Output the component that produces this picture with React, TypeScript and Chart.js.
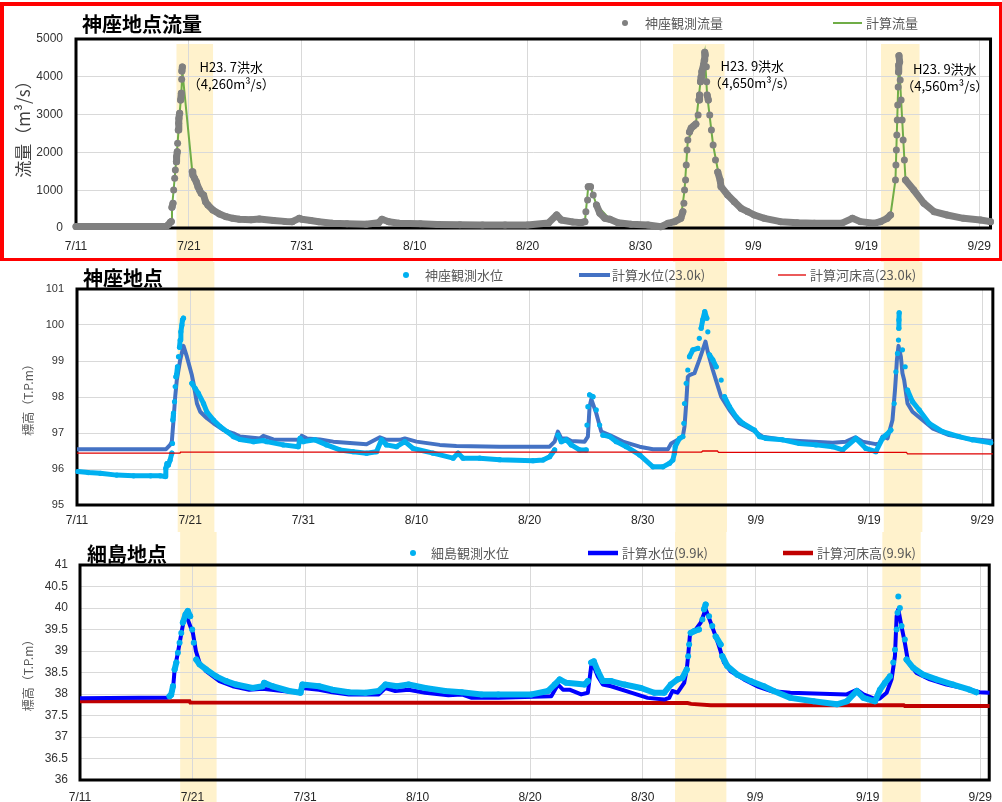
import React, { useEffect, useRef } from 'react';
import { Chart, registerables } from 'chart.js';

Chart.register(...registerables);

const CJK = "'Noto Sans CJK JP', 'Noto Sans CJK SC', sans-serif";
const LATIN = "'Liberation Sans', Arial, sans-serif";

type P = [number, number];

// x axis: days since 7/11 00:00
const xTickLabels = ['7/11', '7/21', '7/31', '8/10', '8/20', '8/30', '9/9', '9/19', '9/29'];
const floodStartDays = [8.9, 52.88, 71.3];
const floodEndDays = [12.14, 57.44, 74.71];

// ---- 神座地点流量 ----
const obsFlow: P[] = [
  [0, 40], [2, 40], [4, 38], [6, 38], [7.5, 40], [8.0, 45], [8.2, 90], [8.35, 150], [8.44, 170], [8.5, 548], [8.59, 653], [8.65, 1005], [8.74, 1314], [8.8, 1534], [8.89, 1754], [8.91, 1886], [8.97, 2018], [9.0, 2240], [9.06, 2593], [9.09, 2769], [9.12, 2900], [9.18, 3034], [9.27, 3386], [9.33, 3563], [9.36, 3934], [9.38, 4153], [9.42, 4260],
  [10.3, 1490], [10.35, 1402], [10.5, 1314], [10.65, 1226], [10.8, 1093], [10.94, 1005], [11.09, 918], [11.3, 873], [11.47, 696], [11.68, 608], [12.12, 476], [12.71, 370], [13.3, 300], [13.88, 256], [14.47, 230], [15.5, 220], [16.24, 238], [17.5, 200], [18.5, 175], [19.15, 168], [19.77, 256], [20.0, 230], [20.8, 200], [21.5, 167], [22.7, 124], [24.0, 110], [25.7, 98], [26.8, 140], [27.1, 230], [27.7, 167], [28.6, 124], [30.5, 110], [32, 95], [34, 85], [36, 80], [38, 78], [40, 80], [41.84, 130], [42.57, 344], [42.98, 212], [44.0, 160], [44.75, 141], [45.07, 168], [45.16, 432], [45.31, 741], [45.37, 1093], [45.57, 1093], [45.81, 873], [46.1, 608], [46.4, 388], [46.84, 256], [47.28, 230], [48.01, 141], [49.16, 97], [50.66, 79], [51.81, 35], [52.43, 124], [53.02, 168], [53.57, 256], [53.75, 432], [53.84, 653], [53.9, 1005], [53.99, 1270],
  [54.05, 1667], [54.12, 2063], [54.19, 2328], [54.34, 2540], [54.49, 2646], [54.7, 2700], [54.9, 2751], [55.1, 2990], [55.18, 3386], [55.23, 3519], [55.31, 3870], [55.37, 4004], [55.43, 4136], [55.58, 4312], [55.65, 4444], [55.69, 4650], [55.73, 4580], [55.83, 4267], [55.86, 3870], [55.9, 3519], [56.0, 3386], [56.13, 2990], [56.28, 2593], [56.43, 2196], [56.64, 1799], [56.84, 1481], [57.05, 1270], [57.13, 1093], [57.72, 873], [58.31, 696], [58.9, 520], [59.5, 432], [60.08, 344], [60.97, 256], [62.4, 168], [63.9, 141], [65.4, 124], [67.8, 124], [68.76, 256], [69.5, 168], [70.67, 124], [71.25, 168], [71.85, 256], [72.14, 344],
  [72.58, 1270], [72.62, 1667], [72.66, 2063], [72.7, 2460], [72.74, 2857], [72.78, 3254], [72.82, 3730], [72.85, 4127], [72.87, 4312], [72.89, 4560], [72.95, 4392], [73.0, 3915], [73.08, 3386], [73.17, 2857], [73.26, 2328], [73.37, 1800], [73.47, 1270], [74.2, 1005], [75.1, 653], [76.0, 432], [77.15, 344], [78.6, 256], [80.1, 212], [81.0, 168],
];
const calcFlow: P[] = [
  [0, 40], [8.0, 45], [8.35, 150], [8.44, 170], [8.5, 550], [8.65, 1005], [8.8, 1534], [9.0, 2240], [9.18, 3034], [9.33, 3563], [9.42, 4150], [10.3, 1490], [10.65, 1226], [11.09, 918], [11.68, 608], [12.71, 370], [14.47, 230], [16.24, 238], [19.15, 168], [19.77, 256], [21.5, 167], [25.7, 98], [27.1, 230], [28.6, 124], [36, 80], [41.84, 130], [42.57, 344], [42.98, 212], [44.75, 141], [45.07, 168], [45.16, 432], [45.37, 1093], [45.57, 1093], [46.1, 608], [47.28, 230], [49.16, 97], [51.81, 35], [53.02, 168], [53.57, 256], [53.9, 1005], [54.19, 2328], [54.9, 2751], [55.31, 3870], [55.69, 4600], [55.9, 3519], [56.43, 2196], [57.13, 1093], [58.9, 520], [60.97, 256], [63.9, 141], [67.8, 124], [68.76, 256], [70.67, 124], [72.14, 344], [72.58, 1270], [72.89, 4450], [73.08, 3386], [73.47, 1270], [74.2, 1005], [76.0, 432], [78.6, 256], [81.0, 168],
];
const noteDays = [13.75, 59.9, 76.95];
const noteValues = [4260, 4290, 4200];
const noteTitles = ['H23. 7洪水', 'H23. 9洪水', 'H23. 9洪水'];
const notePeaks = ['（4,260m³/s）', '（4,650m³/s）', '（4,560m³/s）'];

// ---- 神座地点 水位 ----
const obsLevelKamiza: P[] = [
  [0.09, 95.93], [1.0, 95.9], [2.06, 95.88], [3.5, 95.83], [5.0, 95.81], [6.5, 95.81], [7.35, 95.81], [7.8, 95.79], [7.85, 96.02], [7.95, 96.15], [8.08, 96.11], [8.23, 96.25], [8.38, 96.44], [8.44, 96.71], [8.47, 97.36], [8.53, 97.55], [8.62, 97.87], [8.68, 98.29], [8.74, 98.56], [8.8, 98.62], [8.88, 98.84], [8.97, 99.12], [9.06, 99.38], [9.12, 99.58], [9.18, 99.81], [9.27, 100.0], [9.32, 100.14], [9.41, 100.19],
  [10.15, 98.38], [10.44, 98.24], [10.73, 98.1], [11.18, 97.82], [11.47, 97.59], [12.06, 97.36], [12.65, 97.18], [13.24, 97.04], [13.82, 96.9], [14.41, 96.82], [15.59, 96.76], [16.47, 96.79], [16.76, 96.76], [18.23, 96.67], [19.56, 96.62], [19.71, 96.85], [20.0, 96.76], [21.03, 96.81], [22.06, 96.67], [23.24, 96.53], [24.41, 96.48], [25.59, 96.44], [26.47, 96.48], [26.91, 96.81], [27.35, 96.67], [28.24, 96.62], [28.97, 96.76], [29.71, 96.57], [31.47, 96.44], [33.24, 96.3], [33.68, 96.44], [34.12, 96.3], [35.59, 96.3], [37.36, 96.26], [40.3, 96.23], [41.18, 96.25], [41.77, 96.34], [42.21, 96.53], [42.5, 96.94], [42.8, 96.76], [43.24, 96.81], [43.68, 96.67], [44.42, 96.53], [45.0, 96.53], [45.07, 97.22], [45.15, 97.73], [45.3, 98.06], [45.6, 98.01], [45.89, 97.64], [46.19, 97.22], [46.48, 96.94], [47.07, 96.9], [47.66, 96.76], [48.54, 96.62], [49.72, 96.39], [50.9, 96.06], [51.78, 96.06], [52.37, 96.16], [52.66, 96.25], [52.8, 96.44], [52.87, 96.62], [53.25, 96.85], [53.54, 96.9], [53.63, 97.27], [53.69, 97.82], [53.84, 98.38], [53.98, 98.75],
  [54.13, 99.12], [54.43, 99.31], [54.87, 99.35], [55.0, 99.63], [55.16, 99.91], [55.3, 100.14], [55.48, 100.37], [55.66, 100.19], [55.75, 99.81], [55.9, 99.17], [56.19, 99.03], [56.49, 98.84], [56.93, 98.47], [57.22, 98.01], [57.66, 97.73], [58.25, 97.45], [58.84, 97.27], [59.87, 97.08], [60.31, 96.9], [60.9, 96.85], [62.37, 96.81], [63.84, 96.71], [65.31, 96.67], [66.78, 96.62], [67.66, 96.53], [68.84, 96.85], [69.72, 96.57], [70.6, 96.48], [71.19, 96.85], [71.49, 96.94], [71.93, 97.08], [72.22, 97.82], [72.37, 98.7], [72.51, 99.21], [72.6, 99.58], [72.63, 99.91], [72.64, 100.14], [72.66, 100.34], [72.95, 99.31], [73.19, 98.84], [73.4, 98.19], [73.84, 97.87], [74.43, 97.64], [75.31, 97.27], [76.49, 97.04], [77.96, 96.9], [79.13, 96.81], [80.75, 96.73],
];
const calcLevelKamiza: P[] = [
  [0, 96.55], [7.87, 96.55], [8.23, 96.67], [8.38, 96.76], [8.53, 97.36], [8.68, 98.01], [8.82, 98.47], [9.12, 99.03], [9.41, 99.42], [9.71, 99.12], [10.15, 98.61], [10.3, 98.38], [10.6, 97.82], [10.89, 97.59], [11.48, 97.41], [12.06, 97.27], [12.95, 97.08], [13.82, 96.99], [14.41, 96.9], [16.18, 96.85], [16.47, 96.92], [17.35, 96.82], [19.71, 96.81], [19.86, 96.92], [20.3, 96.85], [21.47, 96.82], [22.65, 96.76], [25.59, 96.69], [26.77, 96.88], [27.35, 96.81], [28.53, 96.81], [28.97, 96.85], [30.0, 96.76], [32.06, 96.67], [33.53, 96.64], [37.36, 96.62], [41.77, 96.62], [42.21, 96.76], [42.5, 97.04], [42.8, 96.85], [43.24, 96.85], [43.68, 96.78], [44.86, 96.76], [45.15, 96.9], [45.3, 97.73], [45.45, 97.94], [45.89, 97.55], [46.33, 97.04], [47.07, 96.94], [48.25, 96.76], [49.72, 96.62], [50.9, 96.55], [52.22, 96.55], [52.51, 96.71], [53.1, 96.81], [53.54, 96.9], [53.69, 97.18], [53.84, 97.82], [53.98, 98.56], [54.13, 98.61], [54.57, 98.66], [55.0, 99.03], [55.3, 99.31], [55.54, 99.54], [55.74, 99.26], [56.19, 98.75], [56.49, 98.45], [56.93, 98.01], [57.66, 97.64], [58.55, 97.27], [59.72, 97.08], [60.6, 96.9], [62.37, 96.81], [63.84, 96.78], [66.78, 96.73], [67.96, 96.76], [68.79, 96.88], [69.43, 96.76], [70.6, 96.69], [70.9, 96.71], [71.19, 96.9], [71.63, 96.85], [72.07, 97.36], [72.29, 98.19], [72.37, 98.56], [72.46, 99.03], [72.6, 99.42], [72.81, 99.12], [72.95, 98.66], [73.1, 98.47], [73.4, 97.82], [73.84, 97.59], [74.72, 97.36], [75.6, 97.13], [77.07, 96.94], [78.55, 96.85], [80.94, 96.78],
];
const bedKamiza: P[] = [
  [0, 96.44], [9.1, 96.44], [9.15, 96.47], [55.2, 96.47], [55.3, 96.5], [56.6, 96.5], [56.7, 96.46], [73.3, 96.46], [73.4, 96.42], [80.94, 96.42],
];

// ---- 細島地点 水位 ----
const obsLevelHosojima: P[] = [
  [7.96, 37.95], [8.1, 37.98], [8.26, 38.18], [8.41, 38.57], [8.56, 38.73], [8.7, 38.96], [8.85, 39.19], [9.0, 39.42], [9.14, 39.66], [9.38, 39.85], [9.58, 39.93], [9.79, 39.81], [9.97, 39.5], [10.11, 39.19], [10.33, 38.8], [10.62, 38.69], [11.21, 38.57], [12.1, 38.41], [12.98, 38.3], [13.87, 38.22], [15.34, 38.14], [16.22, 38.18], [16.37, 38.26], [17.1, 38.18], [18.58, 38.07], [19.6, 38.03], [19.76, 38.22], [21.24, 38.18], [22.42, 38.1], [23.89, 38.04], [25.37, 38.03], [26.55, 38.07], [27.14, 38.22], [28.17, 38.18], [29.2, 38.22], [30.68, 38.14], [32.45, 38.07], [33.92, 38.04], [35.69, 37.99], [37.17, 37.99], [40.12, 37.99], [41.59, 38.07], [42.18, 38.22], [42.63, 38.34], [43.21, 38.26], [44.84, 38.22], [45.13, 38.3], [45.43, 38.73], [45.66, 38.76], [46.02, 38.53], [46.46, 38.3], [47.2, 38.3], [48.38, 38.22], [49.85, 38.14], [51.03, 38.03], [51.92, 38.03], [52.5, 38.22], [53.1, 38.34], [53.54, 38.38], [53.92, 38.57], [54.04, 38.88],
  [54.13, 39.15], [54.27, 39.42], [54.57, 39.46], [55.0, 39.5], [55.31, 39.73], [55.46, 39.97], [55.6, 40.08], [55.9, 39.81], [56.19, 39.58], [56.49, 39.34], [56.93, 39.15], [57.08, 38.88], [57.52, 38.65], [58.41, 38.45], [59.59, 38.3], [60.77, 38.18], [61.65, 38.07], [63.13, 37.91], [65.19, 37.83], [67.26, 37.76], [68.14, 37.83], [69.03, 38.07], [69.62, 37.91], [70.65, 37.83], [71.09, 38.1], [71.53, 38.26], [71.98, 38.41], [72.27, 38.73], [72.42, 39.03], [72.57, 39.5], [72.65, 39.89], [72.72, 40.27], [72.86, 40.0], [73.01, 39.58], [73.3, 39.27], [73.45, 38.8], [74.04, 38.61], [74.93, 38.45], [76.11, 38.34], [77.58, 38.22], [79.06, 38.1], [79.65, 38.04],
];
const calcLevelHosojima: P[] = [
  [0, 37.9], [7.8, 37.92], [8.1, 37.98], [8.26, 38.1], [8.41, 38.57], [8.7, 38.96], [9.0, 39.4], [9.29, 39.81], [9.58, 39.73], [10.03, 39.42], [10.3, 39.0], [10.62, 38.73], [11.21, 38.53], [12.39, 38.3], [13.57, 38.18], [15.04, 38.1], [16.22, 38.12], [17.99, 38.07], [19.6, 38.03], [19.76, 38.14], [21.24, 38.1], [22.42, 38.04], [23.89, 37.99], [26.55, 37.99], [27.14, 38.14], [28.02, 38.07], [29.2, 38.1], [30.68, 38.03], [32.74, 37.97], [33.92, 37.99], [34.81, 37.91], [37.17, 37.91], [41.88, 37.95], [42.48, 38.22], [42.92, 38.1], [43.5, 38.1], [44.54, 37.99], [45.13, 38.03], [45.43, 38.65], [45.58, 38.69], [46.02, 38.41], [46.46, 38.22], [47.2, 38.18], [48.97, 38.03], [50.44, 37.91], [51.92, 37.87], [52.36, 37.91], [52.65, 38.07], [53.1, 38.03], [53.69, 38.26], [53.92, 38.57], [54.04, 38.88], [54.22, 39.42], [54.72, 39.5], [55.16, 39.66], [55.6, 39.97], [56.05, 39.66], [56.49, 39.34], [56.8, 39.1], [57.23, 38.73], [57.82, 38.53], [59.0, 38.34], [60.18, 38.18], [61.36, 38.07], [63.13, 38.03], [66.67, 38.0], [68.14, 37.99], [69.03, 38.1], [69.62, 37.99], [70.8, 37.87], [71.1, 37.9], [71.68, 38.03], [72.12, 38.34], [72.42, 38.88], [72.57, 39.81], [72.72, 39.97], [73.0, 39.58], [73.3, 39.19], [73.6, 38.73], [74.34, 38.49], [75.52, 38.34], [77.0, 38.22], [78.47, 38.14], [79.94, 38.04], [80.83, 38.03],
];
const bedHosojima: P[] = [
  [0, 37.83], [9.73, 37.83], [9.8, 37.8], [54.0, 37.79], [54.3, 37.77], [56.05, 37.74], [73.2, 37.74], [73.3, 37.72], [80.83, 37.72],
];

const toPts = (s: P[]) => s.map(([x, y]) => ({ x, y }));

// observed series: join neighbouring readings with a thick stroke except on steep rises/falls,
// where the readings stand apart as single dots
const hideSteep = (limit: number) => ({
  borderColor: (c: any) => {
    const dy = Math.abs(c.p1.y - c.p0.y);
    const dx = Math.abs(c.p1.x - c.p0.x);
    return dy > limit && dy > 2.5 * dx ? 'rgba(0,0,0,0)' : undefined;
  },
});

interface LegendSpec { kind: 'dot' | 'line'; markerX: number; markerEnd?: number; width?: number; textX: number; }
interface DecorCfg {
  title: string; titleX: number; titleY: number;
  legendY: number; legend: LegendSpec[];
  bandTop: number;
  notes?: boolean;
}

function makeDecor(cfg: DecorCfg) {
  return {
    id: 'decor',
    beforeDraw(chart: any) {
      const { ctx, height } = chart;
      const xs = chart.scales.x;
      ctx.save();
      ctx.fillStyle = '#FFF2CC';
      floodStartDays.forEach((d, i) => {
        const a = xs.getPixelForValue(d);
        const b = xs.getPixelForValue(floodEndDays[i]);
        ctx.fillRect(a, cfg.bandTop, b - a, height - cfg.bandTop);
      });
      ctx.restore();
    },
    beforeDatasetsDraw(chart: any) {
      const { ctx, chartArea: a } = chart;
      ctx.save();
      ctx.strokeStyle = '#000000';
      ctx.lineWidth = 3;
      ctx.strokeRect(a.left, a.top, a.right - a.left, a.bottom - a.top);
      ctx.restore();
    },
    afterDraw(chart: any) {
      const { ctx } = chart;
      ctx.save();
      ctx.fillStyle = '#000000';
      ctx.font = `bold 20px ${CJK}`;
      ctx.textAlign = 'left';
      ctx.textBaseline = 'middle';
      ctx.fillText(cfg.title, cfg.titleX, cfg.titleY);
      ctx.font = `13px ${CJK}`;
      chart.data.datasets.forEach((ds: any, i: number) => {
        const spec = cfg.legend[i];
        if (!spec) return;
        if (spec.kind === 'dot') {
          ctx.fillStyle = ds.pointBackgroundColor;
          ctx.beginPath();
          ctx.arc(spec.markerX, cfg.legendY, 3, 0, Math.PI * 2);
          ctx.fill();
        } else {
          ctx.strokeStyle = ds.borderColor;
          ctx.lineWidth = spec.width ?? 2;
          ctx.beginPath();
          ctx.moveTo(spec.markerX, cfg.legendY);
          ctx.lineTo(spec.markerEnd ?? spec.markerX + 30, cfg.legendY);
          ctx.stroke();
        }
        ctx.fillStyle = '#595959';
        ctx.fillText(ds.label, spec.textX, cfg.legendY);
      });
      if (cfg.notes) {
        const xs = chart.scales.x;
        const ys = chart.scales.y;
        ctx.fillStyle = '#000000';
        ctx.textAlign = 'center';
        ctx.font = `13px ${CJK}`;
        noteDays.forEach((d, i) => {
          const px = xs.getPixelForValue(d);
          const py = ys.getPixelForValue(noteValues[i]);
          ctx.fillText(noteTitles[i], px, py);
          ctx.fillText(notePeaks[i], px, py + 17);
        });
      }
      ctx.restore();
    },
  };
}

interface AxisCfg {
  xMax: number; xHeight: number; xPad: number;
  yMin: number; yMax: number; yStep: number; yWidth: number; yPad: number; yFont: number;
  yTitle: string; yTitleSize: number; yTitlePad: number; yTitleColor: string;
  top: number; right: number;
}

function buildOptions(a: AxisCfg): any {
  const grid = { color: '#D9D9D9', lineWidth: 1, drawTicks: false };
  return {
    responsive: false,
    animation: false,
    events: [],
    layout: { padding: { top: a.top, right: a.right, left: 0, bottom: 0 } },
    plugins: { legend: { display: false }, tooltip: { enabled: false }, title: { display: false } },
    elements: { line: { tension: 0 } },
    scales: {
      x: {
        type: 'linear', min: 0, max: a.xMax,
        afterFit: (s: any) => { s.height = a.xHeight; },
        grid, border: { display: false },
        ticks: {
          stepSize: 10, includeBounds: false, autoSkip: false, maxRotation: 0, padding: a.xPad,
          font: { family: LATIN, size: 12 }, color: '#262626',
          callback: (v: any) => xTickLabels[Math.round(Number(v) / 10)] ?? '',
        },
      },
      y: {
        type: 'linear', min: a.yMin, max: a.yMax,
        afterFit: (s: any) => { s.width = a.yWidth; },
        grid, border: { display: false },
        ticks: {
          stepSize: a.yStep, padding: a.yPad,
          font: { family: LATIN, size: a.yFont }, color: '#333333',
          callback: (v: any) => String(v),
        },
        title: {
          display: true, text: a.yTitle, color: a.yTitleColor,
          font: { family: CJK, size: a.yTitleSize },
          padding: { top: a.yTitlePad, bottom: 0 },
        },
      },
    },
  };
}

function topConfig(): any {
  return {
    type: 'line',
    data: {
      datasets: [
        {
          label: '神座観測流量', data: toPts(obsFlow),
          borderColor: '#808080', pointBackgroundColor: '#808080', pointBorderWidth: 0, pointRadius: 3.5,
          borderWidth: 7, borderJoinStyle: 'round', borderCapStyle: 'round', segment: hideSteep(8), clip: false,
        },
        { label: '計算流量', data: toPts(calcFlow), borderColor: '#70AD47', borderWidth: 2, pointRadius: 0, clip: false },
      ],
    },
    options: buildOptions({
      xMax: 81.0, xHeight: 34, xPad: 11,
      yMin: 0, yMax: 5000, yStep: 1000, yWidth: 76, yPad: 13, yFont: 12,
      yTitle: '　流量（m³/s）', yTitleSize: 17, yTitlePad: 13, yTitleColor: '#404040',
      top: 39, right: 7,
    }),
    plugins: [makeDecor({
      title: '神座地点流量', titleX: 82, titleY: 24, legendY: 23, bandTop: 44, notes: true,
      legend: [
        { kind: 'dot', markerX: 625, textX: 645 },
        { kind: 'line', markerX: 833, markerEnd: 862, width: 2, textX: 866 },
      ],
    })],
  };
}

function midConfig(): any {
  return {
    type: 'line',
    data: {
      datasets: [
        {
          label: '神座観測水位', data: toPts(obsLevelKamiza),
          borderColor: '#00B0F0', pointBackgroundColor: '#00B0F0', pointBorderWidth: 0, pointRadius: 2.6,
          borderWidth: 5, borderJoinStyle: 'round', borderCapStyle: 'round', segment: hideSteep(9), clip: false,
        },
        { label: '計算水位(23.0k)', data: toPts(calcLevelKamiza), borderColor: '#4472C4', borderWidth: 4, pointRadius: 0, borderJoinStyle: 'round', clip: false },
        { label: '計算河床高(23.0k)', data: toPts(bedKamiza), borderColor: '#E00000', borderWidth: 1.3, pointRadius: 0, order: -1, clip: false },
      ],
    },
    options: buildOptions({
      xMax: 80.94, xHeight: 27, xPad: 8,
      yMin: 95, yMax: 101, yStep: 1, yWidth: 77, yPad: 13, yFont: 11,
      yTitle: '標高（T.P.m）', yTitleSize: 12, yTitlePad: 21, yTitleColor: '#595959',
      top: 27, right: 9,
    }),
    plugins: [makeDecor({
      title: '神座地点', titleX: 83, titleY: 16, legendY: 13, bandTop: 0,
      legend: [
        { kind: 'dot', markerX: 406, textX: 425 },
        { kind: 'line', markerX: 579, markerEnd: 610, width: 4, textX: 612 },
        { kind: 'line', markerX: 778, markerEnd: 806, width: 1.3, textX: 810 },
      ],
    })],
  };
}

function bottomConfig(): any {
  return {
    type: 'line',
    data: {
      datasets: [
        {
          label: '細島観測水位', data: toPts(obsLevelHosojima),
          borderColor: '#00B0F0', pointBackgroundColor: '#00B0F0', pointBorderWidth: 0, pointRadius: 3,
          borderWidth: 6, borderJoinStyle: 'round', borderCapStyle: 'round', segment: hideSteep(9), clip: false,
        },
        { label: '計算水位(9.9k)', data: toPts(calcLevelHosojima), borderColor: '#0000FF', borderWidth: 4, pointRadius: 0, borderJoinStyle: 'round', clip: false },
        { label: '計算河床高(9.9k)', data: toPts(bedHosojima), borderColor: '#C00000', borderWidth: 4, pointRadius: 0, clip: false },
      ],
    },
    options: buildOptions({
      xMax: 80.8, xHeight: 22, xPad: 10,
      yMin: 36, yMax: 41, yStep: 0.5, yWidth: 80, yPad: 12, yFont: 12,
      yTitle: '標高（T.P.m）', yTitleSize: 12, yTitlePad: 21, yTitleColor: '#595959',
      top: 33, right: 9,
    }),
    plugins: [makeDecor({
      title: '細島地点', titleX: 87, titleY: 22, legendY: 21, bandTop: 0,
      legend: [
        { kind: 'dot', markerX: 413, textX: 431 },
        { kind: 'line', markerX: 588, markerEnd: 618, width: 4.5, textX: 622 },
        { kind: 'line', markerX: 783, markerEnd: 813, width: 4.5, textX: 817 },
      ],
    })],
  };
}

function Panel({ top, height, build }: { top: number; height: number; build: () => any }) {
  const ref = useRef<HTMLCanvasElement>(null);
  useEffect(() => {
    const chart = new Chart(ref.current as HTMLCanvasElement, build());
    return () => chart.destroy();
  }, []);
  return (
    <canvas
      ref={ref}
      width={1002}
      height={height}
      style={{ position: 'absolute', left: 0, top, width: 1002, height, display: 'block' }}
    />
  );
}

export default function App() {
  return (
    <div style={{ position: 'absolute', left: 0, top: 0, width: 1002, height: 802, background: '#ffffff', overflow: 'hidden' }}>
      <Panel top={0} height={262} build={topConfig} />
      <Panel top={262} height={270} build={midConfig} />
      <Panel top={532} height={270} build={bottomConfig} />
      <div
        style={{
          position: 'absolute', left: 0, top: 2, width: 1002, height: 259, boxSizing: 'border-box',
          borderStyle: 'solid', borderColor: '#FF0000', borderWidth: '4px 3px 3px 4px', pointerEvents: 'none',
        }}
      />
    </div>
  );
}
